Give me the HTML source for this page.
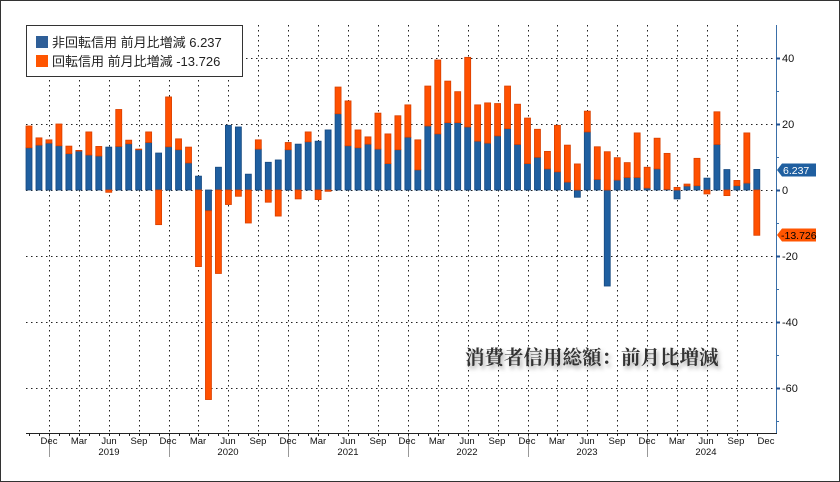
<!DOCTYPE html>
<html><head><meta charset="utf-8">
<style>
html,body{margin:0;padding:0;background:#fff}
svg{display:block}
text{font-family:"Liberation Sans","Noto Sans CJK JP",sans-serif}
</style></head>
<body>
<svg id="c" width="840" height="482" viewBox="0 0 840 482" xmlns="http://www.w3.org/2000/svg">
<rect x="0.5" y="0.5" width="839" height="481" fill="#fff" stroke="#333" stroke-width="1"/>
<g id="grid"></g>
<g id="bars"></g>
<!-- axes -->
<line x1="776.5" y1="25" x2="776.5" y2="434" stroke="#3a6fa8" stroke-width="1"/>
<line x1="26" y1="433.5" x2="777" y2="433.5" stroke="#222" stroke-width="1"/>
<g id="ticks"></g>
<g font-size="11" fill="#111">
<text x="782" y="62">40</text>
<text x="782" y="128">20</text>
<text x="782" y="194">0</text>
<text x="782" y="260">-20</text>
<text x="782" y="326">-40</text>
<text x="782" y="392">-60</text>
</g>
<!-- value tags -->
<path d="M777 170 L782 163.5 H816 V176.5 H782 Z" fill="#1f5fa0"/>
<text x="783" y="174" font-size="10.5" fill="#fff">6.237</text>
<path d="M777 235 L782 228.5 H816 V241.5 H782 Z" fill="#ff5500"/>
<text x="781" y="239" font-size="10.5" fill="#000">-13.726</text>
<!-- month labels -->
<g font-size="9.5" fill="#111" text-anchor="middle">
<text x="49" y="444">Dec</text><text x="79" y="444">Mar</text><text x="109" y="444">Jun</text><text x="139" y="444">Sep</text>
<text x="168" y="444">Dec</text><text x="198" y="444">Mar</text><text x="228" y="444">Jun</text><text x="258" y="444">Sep</text>
<text x="288" y="444">Dec</text><text x="318" y="444">Mar</text><text x="348" y="444">Jun</text><text x="378" y="444">Sep</text>
<text x="407" y="444">Dec</text><text x="437" y="444">Mar</text><text x="467" y="444">Jun</text><text x="497" y="444">Sep</text>
<text x="527" y="444">Dec</text><text x="557" y="444">Mar</text><text x="587" y="444">Jun</text><text x="617" y="444">Sep</text>
<text x="647" y="444">Dec</text><text x="677" y="444">Mar</text><text x="706" y="444">Jun</text><text x="736" y="444">Sep</text>
<text x="766" y="444">Dec</text>
<text x="109" y="455">2019</text><text x="228" y="455">2020</text><text x="348" y="455">2021</text>
<text x="467" y="455">2022</text><text x="587" y="455">2023</text><text x="706" y="455">2024</text>
</g>
<!-- legend -->
<rect x="26.5" y="25.5" width="216" height="51" fill="#fff" stroke="#333" stroke-width="1"/>
<rect x="36" y="36" width="12" height="12" fill="#2f5f98"/>
<rect x="36" y="55" width="12" height="12" fill="#ff5500"/>
<text x="52" y="47" font-size="13" fill="#222">非回転信用 前月比増減 6.237</text>
<text x="52" y="66" font-size="13" fill="#222">回転信用 前月比増減 -13.726</text>
<!-- title -->
<text x="465" y="364" font-size="19.5" font-weight="bold" fill="#333" style="font-family:'Liberation Serif','Noto Serif CJK SC',serif;filter:drop-shadow(2px 3px 2px rgba(0,0,0,0.35))">消費者信用総額：前月比増減</text>
</svg>
<script>
var NS="http://www.w3.org/2000/svg";
function el(p,t,a){var e=document.createElementNS(NS,t);for(var k in a)e.setAttribute(k,a[k]);p.appendChild(e);return e;}
var grid=document.getElementById('grid'),bars=document.getElementById('bars'),ticks=document.getElementById('ticks');
var y0=190,s=3.3;
[40,20,0,-20,-40,-60].forEach(function(v){var y=Math.round(y0-v*s)+0.5;el(grid,'line',{x1:26,x2:776,y1:y,y2:y,stroke:'#222','stroke-width':1,'stroke-dasharray':'1.5,3.5'});
el(ticks,'line',{x1:776,x2:780,y1:y,y2:y,stroke:'#1f4f90','stroke-width':2});});
[30,10,-10,-30,-50,-70].forEach(function(v){var y=Math.round(y0-v*s)+0.5;el(ticks,'line',{x1:776,x2:779,y1:y,y2:y,stroke:'#3a6fa8','stroke-width':1});});
var px=function(i){return 29+9.97*i;};
for(var i=0;i<74;i++){var x=Math.round(px(i))+0.5;
 el(ticks,'line',{x1:x,x2:x,y1:433,y2:436,stroke:'#222','stroke-width':1});
 if((i-2)%3==0){el(grid,'line',{x1:x,x2:x,y1:25,y2:433,stroke:'#222','stroke-width':1,'stroke-dasharray':'1.5,3.5'});}
 if((i-2)%12==0){el(ticks,'line',{x1:x,x2:x,y1:436,y2:457,stroke:'#999','stroke-width':1});}
}
var b=[12.8,13.6,14.2,13.4,11,11.8,10.6,10.3,13,13.2,14,12.2,14.4,11.2,13.1,12.2,8.2,4.2,-6.3,6.9,19.6,19.1,4.8,12.4,8.4,9.1,12.2,13.9,14.6,14.8,18.2,23.1,13.4,12.8,13.9,12.4,8,12.2,16,6.1,
19.4,17,20.4,20.4,19.1,14.8,14.2,16.4,18.6,13.8,8,9.9,6.4,5.5,2.4,-2.2,17.6,3.2,-29.1,3.0,3.8,3.8,0.6,6.4,0.2,-2.7,1.2,1.3,3.6,13.8,6.2,1.3,2.1,6.237];
var o=[6.6,2.2,1.0,6.6,2.3,0.2,7,2.9,-0.7,11.2,1.1,0.2,3.2,-10.5,15.1,3.3,4.8,-23.2,-57.2,-25.3,-4.4,-1.9,-10,2.8,-3.7,-7.9,2.2,-2.7,3.0,-2.9,-0.4,8.1,13.6,5.4,2.2,10.9,9,10.3,9.8,9.1,
12.1,22.4,12.6,9.4,21.1,11,12.2,9.8,12.9,12.2,13.8,8.5,5.3,14.1,11.2,7.9,6.3,9.9,11.6,6.8,4.5,13.5,6.3,9.3,10.9,0.8,0.6,8.3,-1.2,9.9,-1.7,1.6,15.2,-13.726];
function bar(x,v0,v1,f,st){var ya=y0-v0*s,yb=y0-v1*s;var t=Math.min(ya,yb),h=Math.abs(yb-ya);if(h<0.5)h=0.5;
 el(bars,'rect',{x:x-3,y:t,width:6,height:h,fill:f,stroke:st,'stroke-width':0.8});}
for(var i=0;i<74;i++){var x=px(i);var pos=0,neg=0;
 [[b[i],'#1f5fa0','#174a80'],[o[i],'#ff5000','#d84000']].forEach(function(d){var v=d[0];
  if(v>=0){bar(x,pos,pos+v,d[1],d[2]);pos+=v;}else{bar(x,neg,neg+v,d[1],d[2]);neg+=v;}});
}
</script>
</body></html>
